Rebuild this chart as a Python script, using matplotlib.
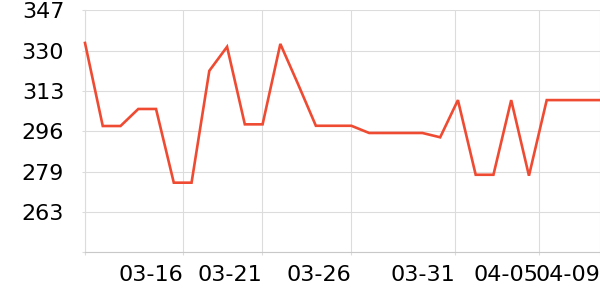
import matplotlib
matplotlib.use("Agg")
import matplotlib.pyplot as plt

# daily values 03-11 .. 04-09
dates = ["03-11", "03-12", "03-13", "03-14", "03-15", "03-16", "03-17", "03-18",
         "03-19", "03-20", "03-21", "03-22", "03-23", "03-24", "03-25", "03-26",
         "03-27", "03-28", "03-29", "03-30", "03-31", "04-01", "04-02", "04-03",
         "04-04", "04-05", "04-06", "04-07", "04-08", "04-09"]
values = [333.4, 298.8, 298.8, 305.9, 305.9, 275.2, 275.2, 321.8,
          331.8, 299.5, 299.5, 333.0, 316.2, 298.9, 298.9, 298.9,
          295.9, 295.9, 295.9, 295.9, 294.1, 309.6, 278.5, 278.5,
          309.6, 278.1, 309.6, 309.6, 309.6, 309.6]

y_ticks = [246.2, 263.0, 279.8, 296.6, 313.4, 330.2, 347.0]
y_labels = ["", "263", "279", "296", "313", "330", "347"]

x_tick_labels = ["", "03-16", "03-21", "03-26", "03-31", "04-05", "04-09"]
x_tick_pos = [0, 5.52, 9.97, 15.0, 20.86, 25.54, 29]

line_color = "#ef4b33"
grid_color = "#dcdcdc"

fig = plt.figure(figsize=(6, 3), dpi=100)
ax = fig.add_axes([85 / 600, 1 - 252.3 / 300, 515 / 600, 242 / 300])

x = list(range(len(values)))
ax.plot(x, values, color=line_color, linewidth=1.9, solid_joinstyle="miter", clip_on=False, zorder=3)

ax.set_xlim(0, len(values) - 1)
ax.set_ylim(y_ticks[0], y_ticks[-1])

ax.set_yticks(y_ticks)
ax.set_yticklabels(y_labels, fontsize=16)
ax.set_xticks(x_tick_pos)
ax.set_xticklabels(x_tick_labels, fontsize=16, ha="right")

ax.grid(True, color=grid_color, linewidth=0.8)
ax.set_axisbelow(True)

for side in ["top", "right"]:
    ax.spines[side].set_visible(False)
ax.spines["left"].set_color(grid_color)
ax.spines["left"].set_linewidth(0.8)
ax.spines["bottom"].set_color("#c8c8c8")
ax.spines["bottom"].set_linewidth(0.8)

ax.tick_params(axis="y", length=2, color=grid_color, pad=13)
ax.tick_params(axis="x", length=2, color=grid_color, pad=7)

fig.savefig("out.png", dpi=100)
